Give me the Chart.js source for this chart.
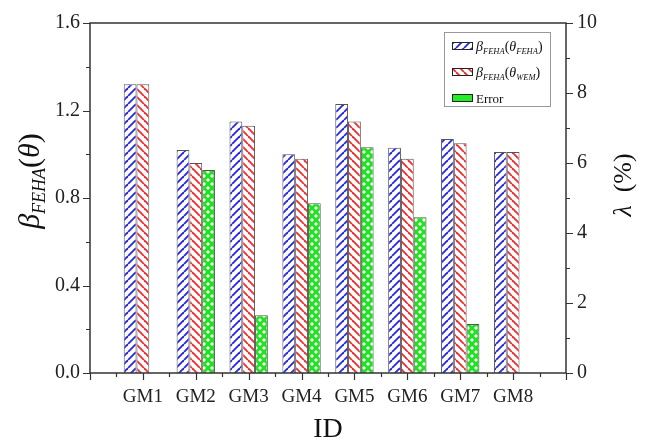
<!DOCTYPE html>
<html>
<head>
<meta charset="utf-8">
<script src="https://cdn.jsdelivr.net/npm/chart.js@4"></script>
<style>html,body{margin:0;padding:0;background:#fff}</style>
</head>
<body>
<canvas id="myChart" width="646" height="441"></canvas>
<script>
const categories = ['GM1', 'GM2', 'GM3', 'GM4', 'GM5', 'GM6', 'GM7', 'GM8'];
const betaFeha = [1.32, 1.02, 1.15, 1.0, 1.23, 1.03, 1.07, 1.01];
const betaWem = [1.32, 0.96, 1.13, 0.98, 1.15, 0.98, 1.05, 1.01];
const errorPct = [null, 5.8, 1.65, 4.85, 6.45, 4.45, 1.4, null];
const leftTicks = [0, 0.4, 0.8, 1.2, 1.6];
const rightTicks = [0, 2, 4, 6, 8, 10];

const FONT = "'Liberation Serif', 'Times New Roman', serif";
const canvas = document.getElementById('myChart');
const ctx = canvas.getContext('2d');

// pad one empty slot each side so GM1..GM8 sit at 1..8 on a 0..9 axis
const pad = (arr) => [null, ...arr, null];
const labels = ['', ...categories, ''];

function hatch(color, dirs, lw) {
  const c = document.createElement('canvas');
  const s = 8;
  c.width = c.height = s;
  const g = c.getContext('2d');
  g.fillStyle = '#fff';
  g.fillRect(0, 0, s, s);
  g.strokeStyle = color;
  g.lineWidth = lw;
  dirs.forEach((d) => {
    for (let k = -1; k <= 1; k++) {
      g.beginPath();
      if (d > 0) {
        g.moveTo(k * s, s);
        g.lineTo(k * s + s, 0);
      } else {
        g.moveTo(k * s, 0);
        g.lineTo(k * s + s, s);
      }
      g.stroke();
    }
  });
  return ctx.createPattern(c, 'repeat');
}

const bluePat = hatch('#2a2ae6', [1], 1.9);
const redPat = hatch('#f03030', [-1], 1.9);
const greenPat = hatch('#22e022', [1, -1], 2.8);

function drawRuns(c, runs, x, y, align) {
  // runs: [text, size, italic, dy]
  let w = 0;
  runs.forEach((r) => {
    c.font = (r[2] ? 'italic ' : '') + r[1] + 'px ' + FONT;
    w += c.measureText(r[0]).width;
  });
  let cx = align === 'center' ? x - w / 2 : x;
  c.textAlign = 'left';
  c.textBaseline = 'alphabetic';
  runs.forEach((r) => {
    c.font = (r[2] ? 'italic ' : '') + r[1] + 'px ' + FONT;
    c.fillText(r[0], cx, y + (r[3] || 0));
    cx += c.measureText(r[0]).width;
  });
}

const frame = {
  id: 'frame',
  afterDraw(chart) {
    const { ctx: c, chartArea: a, scales } = chart;
    const { x, y, y1 } = scales;
    c.save();
    c.strokeStyle = '#333';
    c.lineWidth = 1.5;
    c.strokeRect(a.left, a.top, a.right - a.left, a.bottom - a.top);
    c.lineWidth = 1.2;
    c.beginPath();
    for (let v = 0; v <= 1.6001; v += 0.2) {
      const py = Math.round(y.getPixelForValue(v)) + 0.5;
      const major = Math.abs(v / 0.4 - Math.round(v / 0.4)) < 1e-6;
      c.moveTo(a.left, py);
      c.lineTo(a.left - (major ? 7 : 4), py);
    }
    for (let v = 0; v <= 10; v += 1) {
      const py = Math.round(y1.getPixelForValue(v)) + 0.5;
      c.moveTo(a.right, py);
      c.lineTo(a.right + (v % 2 === 0 ? 7 : 4), py);
    }
    for (let v = 0; v <= 9; v += 0.5) {
      const px = Math.round(x.getPixelForValue(v)) + 0.5;
      const major = v % 1 === 0;
      c.moveTo(px, a.bottom);
      c.lineTo(px, a.bottom + (major ? 7 : 4));
    }
    c.stroke();

    // legend
    c.lineWidth = 1;
    c.strokeStyle = '#999';
    c.strokeRect(444.5, 32.5, 106, 74);
    const items = [
      [bluePat, '#222', 46, [['β', 14, true], ['FEHA', 8.5, true, 3], ['(', 14], ['θ', 14, true], ['FEHA', 8.5, true, 3], [')', 14]]],
      [redPat, '#222', 72, [['β', 14, true], ['FEHA', 8.5, true, 3], ['(', 14], ['θ', 14, true], ['WEM', 8.5, true, 3], [')', 14]]],
      ['#22ee22', '#222', 98, [['Error', 13]]],
    ];
    items.forEach(([fill, stroke, cy, runs]) => {
      c.fillStyle = fill;
      c.fillRect(452, cy - 4, 21, 8);
      c.strokeStyle = stroke;
      c.strokeRect(452.5, cy - 3.5, 20, 7);
      c.fillStyle = '#111';
      drawRuns(c, runs, 476, cy + 4.5, 'left');
    });

    // axis titles
    c.fillStyle = '#111';
    drawRuns(c, [['ID', 28]], (a.left + a.right) / 2, 437, 'center');
    c.save();
    c.translate(29, 181);
    c.rotate(-Math.PI / 2);
    drawRuns(c, [['β', 30, true], ['FEHA', 18, true, 6], ['(', 30], ['θ', 30, true], [')', 30]], 0, 10, 'center');
    c.restore();
    c.save();
    c.translate(622, 185);
    c.rotate(-Math.PI / 2);
    drawRuns(c, [['λ', 26, true], ['  (%)', 26]], 0, 9, 'center');
    c.restore();
    c.restore();
  },
};

const tickFont = { family: FONT, size: 19 };
const yTickFont = { family: FONT, size: 20 };

new Chart(ctx, {
  type: 'bar',
  data: {
    labels: labels,
    datasets: [
      { label: 'FEHA', data: pad(betaFeha), backgroundColor: bluePat, borderColor: '#555', borderWidth: 1, yAxisID: 'y' },
      { label: 'WEM', data: pad(betaWem), backgroundColor: redPat, borderColor: '#555', borderWidth: 1, yAxisID: 'y' },
      { label: 'Error', data: pad(errorPct), backgroundColor: greenPat, borderColor: '#555', borderWidth: 1, yAxisID: 'y1' },
    ],
  },
  options: {
    responsive: false,
    animation: false,
    devicePixelRatio: 1,
    layout: { padding: { top: 20, left: 0, right: 0, bottom: 0 } },
    categoryPercentage: 0.725,
    barPercentage: 1,
    plugins: { legend: { display: false }, tooltip: { enabled: false } },
    scales: {
      x: {
        type: 'category',
        offset: false,
        grid: { display: false, drawTicks: false },
        border: { display: false },
        ticks: { font: tickFont, color: '#222', padding: 13, autoSkip: false, maxRotation: 0 },
        afterFit: (s) => { s.height = 68; },
      },
      y: {
        position: 'left',
        min: 0,
        max: 1.6,
        grid: { display: false, drawTicks: false },
        border: { display: false },
        afterBuildTicks: (s) => { s.ticks = leftTicks.map((v) => ({ value: v })); },
        ticks: { font: yTickFont, color: '#222', padding: 10, callback: (v) => v.toFixed(1) },
        afterFit: (s) => { s.width = 90; },
      },
      y1: {
        position: 'right',
        min: 0,
        max: 10,
        grid: { display: false, drawTicks: false },
        border: { display: false },
        afterBuildTicks: (s) => { s.ticks = rightTicks.map((v) => ({ value: v })); },
        ticks: { font: yTickFont, color: '#222', padding: 11, callback: (v) => String(v) },
        afterFit: (s) => { s.width = 80; },
      },
    },
  },
  plugins: [frame],
});
</script>
</body>
</html>
